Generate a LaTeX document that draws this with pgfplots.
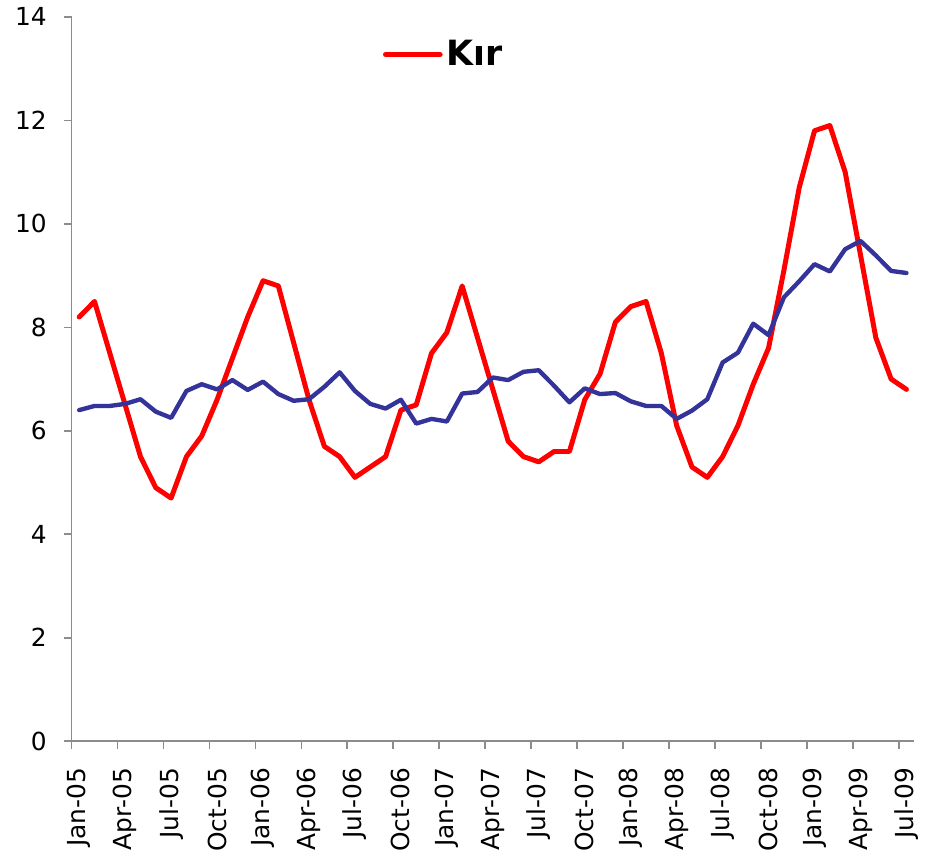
\documentclass[border=0pt]{standalone}
\usepackage{pgfplots}
\pgfplotsset{compat=1.18}
\usepackage{fontspec}
\setmainfont{DejaVu Sans}
\definecolor{kir}{RGB}{255,0,0}
\definecolor{navy}{RGB}{51,51,153}
\definecolor{axgray}{RGB}{140,140,140}
\begin{document}
\begin{tikzpicture}
\begin{axis}[
  scale only axis,
  width=424pt, height=364.5pt,
  xmin=-0.5, xmax=54.5,
  ymin=0, ymax=14,
  axis x line*=bottom, axis y line*=left,
  axis line style={axgray, line width=0.8pt, -},
  xtick={0,3,...,54},
  xticklabels={Jan-05,Apr-05,Jul-05,Oct-05,Jan-06,Apr-06,Jul-06,Oct-06,Jan-07,Apr-07,Jul-07,Oct-07,Jan-08,Apr-08,Jul-08,Oct-08,Jan-09,Apr-09,Jul-09},
  major x tick style={draw=none},
  minor xtick={-0.5,2.5,...,53.5},
  minor x tick style={axgray, line width=0.8pt},
  minor tick length=4pt,
  ytick={0,2,...,14},
  major y tick style={axgray, line width=0.8pt},
  major tick length=4pt,
  tick align=outside,
  /pgf/number format/assume math mode=true,
  tick label style={font=\fontsize{12.5}{15}\selectfont},
  xticklabel style={rotate=90, anchor=east, xshift=-6pt},
  yticklabel style={xshift=-5pt},
  legend style={at={(0.443,0.948)}, anchor=center, draw=none, fill=none,
    font=\bfseries\fontsize{17.5}{20}\selectfont, inner sep=0pt},
  legend image code/.code={\draw[#1, line width=2.5pt] (0pt,0pt) -- (27.5pt,0pt);},
  legend cell align=left,
]
\addplot[kir, line width=2.5pt, line join=round, line cap=round] coordinates {
(0,8.2)(1,8.5)(2,7.5)(3,6.5)(4,5.5)(5,4.9)(6,4.7)(7,5.5)(8,5.9)(9,6.6)
(10,7.4)(11,8.2)(12,8.9)(13,8.8)(14,7.7)(15,6.6)(16,5.7)(17,5.5)(18,5.1)(19,5.3)
(20,5.5)(21,6.4)(22,6.5)(23,7.5)(24,7.9)(25,8.8)(26,7.8)(27,6.8)(28,5.8)(29,5.5)
(30,5.4)(31,5.6)(32,5.6)(33,6.6)(34,7.1)(35,8.1)(36,8.4)(37,8.5)(38,7.5)(39,6.1)
(40,5.3)(41,5.1)(42,5.5)(43,6.1)(44,6.9)(45,7.6)(46,9.1)(47,10.7)(48,11.8)(49,11.9)
(50,11.0)(51,9.4)(52,7.8)(53,7.0)(54,6.8)};
\addlegendentry{K\i r}
\addplot[navy, line width=2.2pt, line join=round, line cap=round, forget plot] coordinates {
(0,6.40)(1,6.48)(2,6.48)(3,6.52)(4,6.61)(5,6.37)(6,6.25)(7,6.77)(8,6.90)(9,6.80)
(10,6.98)(11,6.79)(12,6.95)(13,6.71)(14,6.58)(15,6.61)(16,6.85)(17,7.13)(18,6.77)(19,6.52)
(20,6.43)(21,6.60)(22,6.14)(23,6.23)(24,6.18)(25,6.72)(26,6.75)(27,7.03)(28,6.98)(29,7.14)
(30,7.17)(31,6.87)(32,6.55)(33,6.82)(34,6.71)(35,6.73)(36,6.57)(37,6.48)(38,6.48)(39,6.23)
(40,6.39)(41,6.61)(42,7.32)(43,7.51)(44,8.07)(45,7.85)(46,8.58)(47,8.89)(48,9.22)(49,9.08)
(50,9.51)(51,9.67)(52,9.39)(53,9.09)(54,9.05)};
\end{axis}
\path (current axis.south west) ++(-36pt,-55.5pt) coordinate (bbsw);
\path (current axis.north east) ++(2.5pt,8.5pt) coordinate (bbne);
\path[use as bounding box] (bbsw) rectangle (bbne);
\end{tikzpicture}
\end{document}
